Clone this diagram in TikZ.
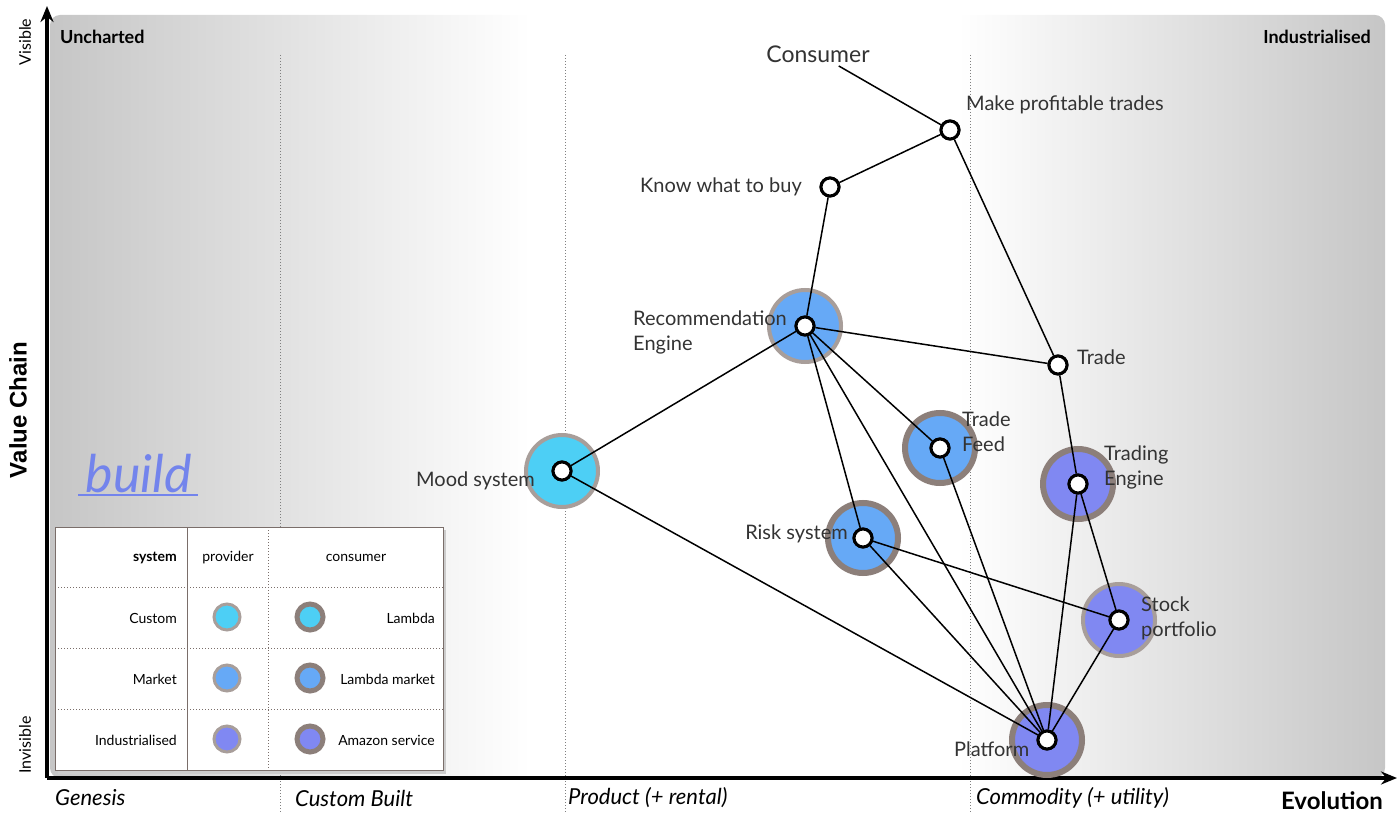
\documentclass[tikz,border=0pt]{standalone}
\usepackage{fontspec}
\setmainfont{Lato}
\newfontfamily\arialfont{Liberation Sans}
\usetikzlibrary{arrows.meta}
\definecolor{cCustom}{HTML}{4DCFF5}
\definecolor{cMarket}{HTML}{66A9F6}
\definecolor{cIndustry}{HTML}{8088F2}
\definecolor{consgray}{HTML}{8C7F7A}
\definecolor{provgray}{HTML}{A89E9A}
\definecolor{mapgray}{HTML}{C6C6C6}
\definecolor{buildblue}{HTML}{7384EC}
\definecolor{tableline}{HTML}{7A6E6A}
\pgfdeclarehorizontalshading{mapshade}{100bp}{color(0bp)=(mapgray); color(25bp)=(mapgray); color(43bp)=(white); color(59bp)=(white); color(75bp)=(mapgray); color(100bp)=(mapgray)}
\tikzset{
  pt/.style={circle, draw=black, line width=3pt, fill=white, minimum size=18pt, inner sep=0pt},
  provider/.style={circle, draw=provgray, line width=4pt, minimum size=72pt, inner sep=0pt},
  consumer/.style={circle, draw=consgray, line width=6pt, minimum size=70pt, inner sep=0pt},
  legprov/.style={circle, draw=provgray, line width=3pt, minimum size=26pt, inner sep=0pt},
  legcons/.style={circle, draw=consgray, line width=5pt, minimum size=26pt, inner sep=0pt},
  link/.style={black, line width=1.5pt},
  lbl/.style={text=black!80, font=\fontsize{20}{25}\selectfont, inner sep=0pt, align=left},
  stage/.style={anchor=west, font=\fontsize{22}{26}\selectfont\itshape, inner sep=0pt},
  leg/.style={font=\fontsize{14}{16}\selectfont, inner sep=0pt},
  griddots/.style={gray, dotted, line width=1pt},
  axis/.style={black, line width=4pt, -{Stealth[length=16pt,width=13pt]}}
}
\begin{document}
\begin{tikzpicture}[x=1pt,y=-1pt]
\useasboundingbox (0,0) rectangle (1400,826);
\shade[shading=mapshade, rounded corners=10pt] (50,15) rectangle (1385,778);
\draw[griddots] (280,55) -- (280,812);
\draw[griddots] (565,55) -- (565,812);
\draw[griddots] (970,55) -- (970,812);
\coordinate (origin) at (47,778);
\coordinate (ytop) at (47,6);
\coordinate (xend) at (1397,778);
\draw[axis] (origin) -- (ytop);
\draw[axis] (origin) -- (xend);
\node[anchor=west, font=\fontsize{18}{20}\selectfont\bfseries, inner sep=0pt] (uncharted) at (60,37) {Uncharted};
\node[anchor=east, font=\fontsize{18}{20}\selectfont\bfseries, inner sep=0pt] (industrialised) at (1371,37) {Industrialised};
\node[rotate=90, font=\fontsize{16}{18}\selectfont] (visible) at (25,42) {Visible};
\node[rotate=90, font=\fontsize{16}{18}\selectfont] (invisible) at (25,745) {Invisible};
\node[rotate=90, font=\arialfont\fontsize{24}{26}\selectfont\bfseries] (valuechain) at (18,410) {Value Chain};
\node[stage] (genesis) at (55,798) {Genesis};
\node[stage] (custombuilt) at (295,798) {Custom Built};
\node[stage] (product) at (568,798) {Product (+ rental)};
\node[stage] (commodity) at (976,798) {Commodity (+ utility)};
\node[anchor=east, font=\fontsize{24}{26}\selectfont\bfseries, inner sep=0pt] (evolution) at (1383,801) {Evolution};
% build
\node[text=buildblue, font=\fontsize{52}{52}\selectfont\itshape, inner sep=0pt] (build) at (139,474) {build};
\draw[buildblue, line width=2pt] (78,495) -- (198,495);
% legend
\fill[black!20] (58,530) rectangle (446,774);
\fill[white] (55,527) rectangle (443,770);
\draw[tableline, line width=1pt] (55,527) rectangle (443,770);
\draw[tableline, line width=1pt] (187,527) -- (187,770);
\draw[tableline, dotted, line width=1pt] (268,527) -- (268,770);
\foreach \y in {587,648,709}
  \draw[tableline, dotted, line width=1pt] (55,\y) -- (443,\y);
\node[leg, anchor=east, font=\fontsize{14}{16}\selectfont\bfseries] (hsystem) at (177,558) {system};
\node[leg] (hprovider) at (228,558) {provider};
\node[leg] (hconsumer) at (356,558) {consumer};
\node[leg, anchor=east] (lcustom) at (177,618) {Custom};
\node[leg, anchor=east] (lmarket) at (177,679) {Market};
\node[leg, anchor=east] (lindustry) at (177,740) {Industrialised};
\node[legprov, fill=cCustom] (pcustom) at (227,617) {};
\node[legprov, fill=cMarket] (pmarket) at (227,678) {};
\node[legprov, fill=cIndustry] (pindustry) at (227,739) {};
\node[legcons, fill=cCustom] (ccustom) at (310,617) {};
\node[legcons, fill=cMarket] (cmarket) at (310,678) {};
\node[legcons, fill=cIndustry] (cindustry) at (310,739) {};
\node[leg, anchor=east] (llambda) at (435,618) {Lambda};
\node[leg, anchor=east] (llambdamarket) at (435,679) {Lambda market};
\node[leg, anchor=east] (lamazon) at (435,740) {Amazon service};
% components
\node[provider, fill=cMarket] (recC) at (805,326) {};
\node[provider, fill=cCustom] (moodC) at (562,471) {};
\node[consumer, fill=cMarket] (feedC) at (940,448) {};
\node[consumer, fill=cIndustry] (engineC) at (1078,484) {};
\node[consumer, fill=cMarket] (riskC) at (863,538) {};
\node[provider, fill=cIndustry] (stockC) at (1119,620) {};
\node[consumer, fill=cIndustry] (platformC) at (1047,740) {};
\node[font=\fontsize{23}{26}\selectfont, text=black!80] (consumer) at (818,54) {Consumer};
\node[pt] (trades) at (950,130) {};
\node[pt] (know) at (830,187) {};
\node[pt] (rec) at (805,326) {};
\node[pt] (trade) at (1058,365) {};
\node[pt] (feed) at (940,448) {};
\node[pt] (engine) at (1078,484) {};
\node[pt] (mood) at (562,471) {};
\node[pt] (risk) at (863,538) {};
\node[pt] (stock) at (1119,620) {};
\node[pt] (platform) at (1047,740) {};
\draw[link] (consumer) -- (trades);
\draw[link] (trades) -- (know);
\draw[link] (trades) -- (trade);
\draw[link] (know) -- (rec);
\draw[link] (rec) -- (trade);
\draw[link] (rec) -- (mood);
\draw[link] (rec) -- (feed);
\draw[link] (rec) -- (risk);
\draw[link] (rec) -- (platform);
\draw[link] (trade) -- (engine);
\draw[link] (engine) -- (stock);
\draw[link] (engine) -- (platform);
\draw[link] (feed) -- (platform);
\draw[link] (risk) -- (stock);
\draw[link] (risk) -- (platform);
\draw[link] (stock) -- (platform);
\draw[link] (mood) -- (platform);
\node[pt] at (trades) {};
\node[pt] at (know) {};
\node[pt] at (rec) {};
\node[pt] at (trade) {};
\node[pt] at (feed) {};
\node[pt] at (engine) {};
\node[pt] at (mood) {};
\node[pt] at (risk) {};
\node[pt] at (stock) {};
\node[pt] at (platform) {};
% labels
\node[lbl, anchor=west] (tradesL) at (966,105) {Make profitable trades};
\node[lbl, anchor=east] (knowL) at (802,187) {Know what to buy};
\node[lbl, anchor=west] (recL) at (633,332) {Recommendation\\Engine};
\node[lbl, anchor=west] (tradeL) at (1077,357) {Trade};
\node[lbl, anchor=west] (feedL) at (962,432) {Trade\\Feed};
\node[lbl, anchor=west] (engineL) at (1104,467) {Trading\\Engine};
\node[lbl, anchor=east] (moodL) at (535,481) {Mood system};
\node[lbl, anchor=east] (riskL) at (848,534) {Risk system};
\node[lbl, anchor=west] (stockL) at (1141,618) {Stock\\portfolio};
\node[lbl, anchor=west] (platformL) at (954,749) {Platform};
\end{tikzpicture}
\end{document}
